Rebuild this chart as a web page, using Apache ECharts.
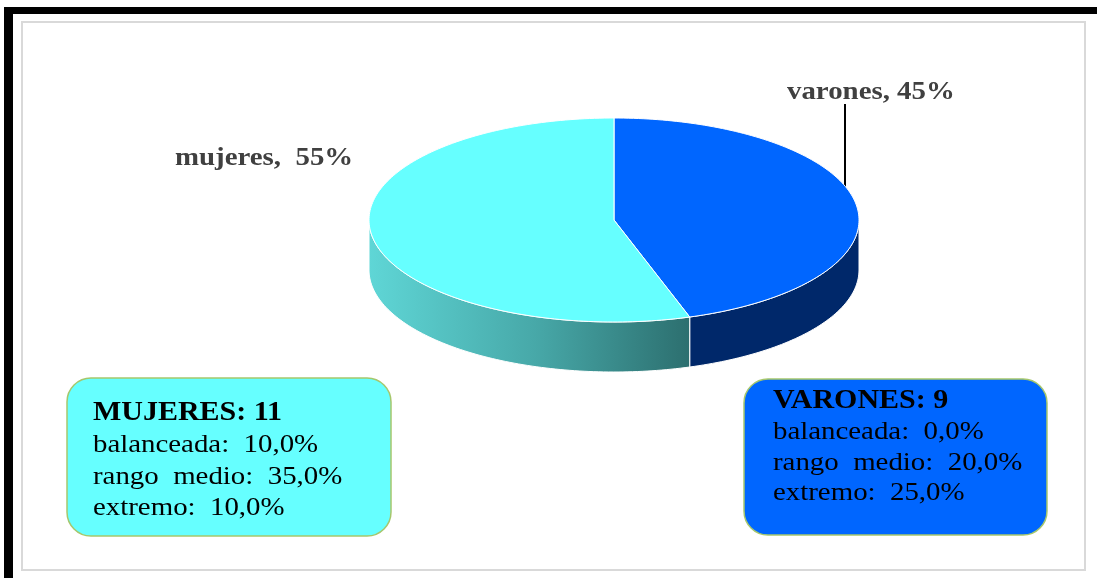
<!DOCTYPE html>
<html>
<head>
<meta charset="utf-8">
<title>mujeres / varones</title>
<script src="https://cdn.jsdelivr.net/npm/echarts@6/dist/echarts.min.js"></script>
<style>
  html, body { margin: 0; padding: 0; background: #fff; }
  #main { width: 1097px; height: 578px; }
</style>
</head>
<body>
<div id="main"></div>
<script>
// datos del grafico
var categories = ['varones', 'mujeres'];
var shares = [45, 55];
var topColors = ['#0066FF', '#66FFFF'];

var boxTitles = ['MUJERES: 11', 'VARONES: 9'];
var profileLabels = ['balanceada', 'rango  medio', 'extremo'];
var mujeresProfile = [10.0, 35.0, 10.0];
var varonesProfile = [0.0, 20.0, 25.0];

// geometria del pastel "3d"
var cx = 614, cy = 220, rx = 245, ry = 102, depth = 50;
var FONT = 'Liberation Serif';
var STRETCH = 1.11; // el original esta estirado a lo ancho

function pt(a, dy) {
  return [cx + rx * Math.sin(a), cy - ry * Math.cos(a) + (dy || 0)];
}

function arc(a0, a1, dy) {
  var pts = [];
  var n = Math.max(2, Math.ceil((a1 - a0) / 0.02));
  for (var k = 0; k <= n; k++) {
    pts.push(pt(a0 + (a1 - a0) * k / n, dy));
  }
  return pts;
}

var total = shares.reduce(function (s, v) { return s + v; }, 0);

function sideFill(i) {
  if (i === 1) {
    return new echarts.graphic.LinearGradient(369, 0, 703, 0, [
      { offset: 0, color: '#5FD6D6' },
      { offset: 0.5, color: '#47A8A8' },
      { offset: 1, color: '#2A6A6A' }
    ], true);
  }
  return '#00286A';
}

function renderItem(params, api) {
  var i = params.dataIndex;
  var before = 0;
  for (var k = 0; k < i; k++) before += shares[k];
  var a0 = before / total * Math.PI * 2;
  var a1 = (before + api.value(0)) / total * Math.PI * 2;
  var children = [];

  // cara lateral (solo la parte de delante)
  var s = Math.max(a0, Math.PI / 2), e = Math.min(a1, Math.PI * 3 / 2);
  if (s < e) {
    var pts = arc(s, e, 0).concat(arc(s, e, depth).reverse());
    children.push({
      type: 'polygon',
      z2: 1,
      shape: { points: pts },
      style: { fill: sideFill(i), stroke: '#ffffff', lineWidth: 1 }
    });
  }

  // cara superior
  var top = [[cx, cy]].concat(arc(a0, a1, 0));
  children.push({
    type: 'polygon',
    z2: 2,
    shape: { points: top },
    style: { fill: topColors[i], stroke: '#ffffff', lineWidth: 1 }
  });

  return { type: 'group', children: children };
}

function pct(v) {
  return v.toFixed(1).replace('.', ',') + '%';
}

function boxGraphic(x, y, w, h, fill, title, values, tx, ty0, gap) {
  var els = [{
    type: 'rect',
    shape: { x: x, y: y, width: w, height: h, r: 24 },
    style: { fill: fill, stroke: '#A6C76C', lineWidth: 1.5 }
  }, {
    type: 'text',
    x: tx, y: ty0, scaleX: STRETCH,
    style: { text: title, font: 'bold 27px "' + FONT + '"', fill: '#000' }
  }];
  for (var k = 0; k < profileLabels.length; k++) {
    els.push({
      type: 'text',
      x: tx, y: ty0 + 1 + gap * (k + 1), scaleX: STRETCH,
      style: {
        text: profileLabels[k] + ':  ' + pct(values[k]),
        font: '26px "' + FONT + '"', fill: '#000'
      }
    });
  }
  return els;
}

var chart = echarts.init(document.getElementById('main'), null, { renderer: 'canvas' });

var graphics = [
  // marco negro (arriba e izquierda)
  { type: 'rect', shape: { x: 4, y: 7, width: 1093, height: 7 }, style: { fill: '#000' } },
  { type: 'rect', shape: { x: 4, y: 7, width: 9, height: 571 }, style: { fill: '#000' } },
  // area del grafico
  { type: 'rect', shape: { x: 22, y: 22, width: 1063, height: 548 }, style: { fill: 'none', stroke: '#D9D9D9', lineWidth: 2 } },
  // etiquetas
  {
    type: 'text', x: 175, y: 158, scaleX: STRETCH,
    style: { text: categories[1] + ',  ' + shares[1] + '%', font: 'bold 26px "' + FONT + '"', fill: '#404040', textVerticalAlign: 'middle' }
  },
  {
    type: 'text', x: 787, y: 92, scaleX: STRETCH,
    style: { text: categories[0] + ', ' + shares[0] + '%', font: 'bold 26px "' + FONT + '"', fill: '#404040', textVerticalAlign: 'middle' }
  },
  { type: 'line', shape: { x1: 845, y1: 104, x2: 845, y2: 187 }, style: { stroke: '#000', lineWidth: 2 } }
];

graphics = graphics
  .concat(boxGraphic(67, 378, 324, 158, '#66FFFF', boxTitles[0], mujeresProfile, 93, 400, 31.5))
  .concat(boxGraphic(744, 379, 303, 156, '#0066FF', boxTitles[1], varonesProfile, 773, 388, 30.5));

var option = {
  backgroundColor: '#ffffff',
  animation: false,
  graphic: graphics,
  series: [{
    type: 'custom',
    coordinateSystem: 'none',
    renderItem: renderItem,
    data: shares.map(function (v, i) { return { name: categories[i], value: [v] }; })
  }]
};

chart.setOption(option);
</script>
</body>
</html>
